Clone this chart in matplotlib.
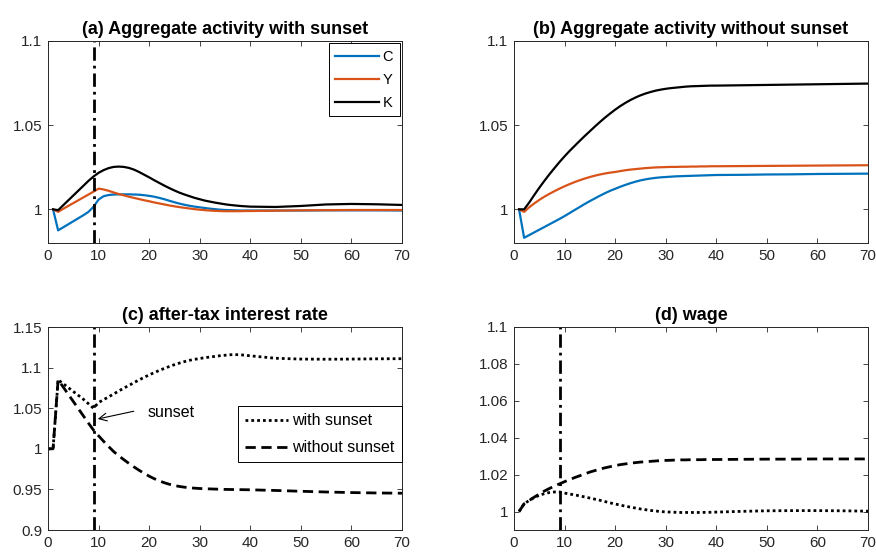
import matplotlib
matplotlib.use("Agg")
import matplotlib.pyplot as plt
from matplotlib.ticker import FuncFormatter

plt.rcParams['font.family'] = ['Liberation Sans', 'DejaVu Sans']

# periods shared by panels (a), (b), (d); panel (c) also has period 0
periods = list(range(1, 41)) + [45, 50, 55, 60, 65, 70]
periods_r = [0] + periods
sunset_year = 9

# (a) aggregate activity with sunset
c_sun = [1.0000, 0.9875, 0.9893, 0.9911, 0.9929, 0.9947, 0.9965, 0.9985, 1.0015, 1.0058,
         1.0078, 1.0085, 1.0088, 1.0089, 1.0089, 1.0089, 1.0088, 1.0087, 1.0084, 1.0080,
         1.0075, 1.0068, 1.0060, 1.0051, 1.0042, 1.0034, 1.0027, 1.0021, 1.0016, 1.0012,
         1.0008, 1.0004, 1.0001, 0.9998, 0.9996, 0.9995, 0.9994, 0.9993, 0.9993, 0.9993,
         0.9993, 0.9993, 0.9994, 0.9994, 0.9994, 0.9993]
y_sun = [1.0000, 0.9985, 1.0003, 1.0020, 1.0037, 1.0054, 1.0071, 1.0088, 1.0105, 1.0123,
         1.0118, 1.0110, 1.0100, 1.0091, 1.0083, 1.0075, 1.0068, 1.0061, 1.0054, 1.0048,
         1.0041, 1.0035, 1.0029, 1.0023, 1.0018, 1.0013, 1.0009, 1.0005, 1.0001, 0.9998,
         0.9995, 0.9993, 0.9991, 0.9990, 0.9989, 0.9989, 0.9989, 0.9989, 0.9990, 0.9990,
         0.9992, 0.9994, 0.9995, 0.9996, 0.9996, 0.9996]
k_sun = [1.0000, 0.9995, 1.0024, 1.0053, 1.0082, 1.0111, 1.0140, 1.0169, 1.0195, 1.0217,
         1.0233, 1.0245, 1.0252, 1.0254, 1.0252, 1.0246, 1.0236, 1.0222, 1.0206, 1.0190,
         1.0173, 1.0157, 1.0141, 1.0126, 1.0112, 1.0099, 1.0088, 1.0078, 1.0068, 1.0060,
         1.0052, 1.0046, 1.0040, 1.0035, 1.0030, 1.0026, 1.0023, 1.0020, 1.0018, 1.0016,
         1.0014, 1.0020, 1.0029, 1.0032, 1.0030, 1.0026]

# (b) aggregate activity without sunset
c_perm = [1.0000, 0.9831, 0.9847, 0.9863, 0.9879, 0.9895, 0.9911, 0.9927, 0.9943, 0.9960,
          0.9978, 0.9996, 1.0014, 1.0032, 1.0049, 1.0065, 1.0081, 1.0096, 1.0110, 1.0122,
          1.0134, 1.0145, 1.0155, 1.0164, 1.0172, 1.0178, 1.0183, 1.0187, 1.0190, 1.0192,
          1.0194, 1.0196, 1.0197, 1.0198, 1.0199, 1.0200, 1.0201, 1.0202, 1.0203, 1.0204,
          1.0205, 1.0207, 1.0208, 1.0210, 1.0211, 1.0212]
y_perm = [1.0000, 0.9985, 1.0012, 1.0035, 1.0056, 1.0075, 1.0092, 1.0108, 1.0123, 1.0137,
          1.0150, 1.0162, 1.0173, 1.0183, 1.0192, 1.0200, 1.0207, 1.0213, 1.0218, 1.0222,
          1.0227, 1.0232, 1.0236, 1.0239, 1.0242, 1.0245, 1.0247, 1.0249, 1.0250, 1.0251,
          1.0252, 1.0252, 1.0253, 1.0253, 1.0254, 1.0254, 1.0255, 1.0255, 1.0256, 1.0256,
          1.0257, 1.0258, 1.0259, 1.0260, 1.0261, 1.0262]
k_perm = [1.0000, 1.0000, 1.0040, 1.0085, 1.0128, 1.0169, 1.0208, 1.0245, 1.0281, 1.0315,
          1.0347, 1.0377, 1.0407, 1.0436, 1.0464, 1.0492, 1.0519, 1.0545, 1.0569, 1.0592,
          1.0613, 1.0632, 1.0649, 1.0664, 1.0677, 1.0688, 1.0697, 1.0705, 1.0711, 1.0716,
          1.0720, 1.0723, 1.0726, 1.0729, 1.0731, 1.0732, 1.0733, 1.0734, 1.0735, 1.0735,
          1.0737, 1.0739, 1.0741, 1.0743, 1.0745, 1.0747]

# (c) after-tax interest rate
r_sun = [1.0000, 1.0000, 1.0850, 1.0802, 1.0754, 1.0706, 1.0658, 1.0610, 1.0555, 1.0500,
         1.0570, 1.0605, 1.0640, 1.0676, 1.0712, 1.0748, 1.0780, 1.0815, 1.0848, 1.0880,
         1.0910, 1.0938, 1.0965, 1.0990, 1.1014, 1.1036, 1.1056, 1.1074, 1.1090, 1.1102,
         1.1112, 1.1122, 1.1130, 1.1138, 1.1146, 1.1152, 1.1158, 1.1160, 1.1158, 1.1152,
         1.1145, 1.1115, 1.1105, 1.1103, 1.1105, 1.1108, 1.1110]
r_perm = [1.0000, 1.0000, 1.0850, 1.0761, 1.0672, 1.0583, 1.0494, 1.0405, 1.0316, 1.0230,
          1.0160, 1.0092, 1.0027, 0.9965, 0.9913, 0.9866, 0.9820, 0.9777, 0.9736, 0.9698,
          0.9663, 0.9632, 0.9605, 0.9582, 0.9563, 0.9548, 0.9536, 0.9527, 0.9520, 0.9515,
          0.9511, 0.9508, 0.9506, 0.9504, 0.9502, 0.9500, 0.9499, 0.9498, 0.9497, 0.9496,
          0.9495, 0.9487, 0.9477, 0.9468, 0.9461, 0.9456, 0.9453]

# (d) wage
w_sun = [1.0000, 1.0042, 1.0060, 1.0076, 1.0088, 1.0097, 1.0103, 1.0106, 1.0106, 1.0100,
         1.0095, 1.0090, 1.0085, 1.0079, 1.0073, 1.0067, 1.0061, 1.0054, 1.0047, 1.0041,
         1.0035, 1.0029, 1.0024, 1.0019, 1.0014, 1.0010, 1.0006, 1.0003, 1.0000, 0.9998,
         0.9997, 0.9996, 0.9995, 0.9995, 0.9995, 0.9995, 0.9995, 0.9996, 0.9996, 0.9997,
         1.0001, 1.0004, 1.0005, 1.0005, 1.0004, 1.0002]
w_perm = [1.0000, 1.0042, 1.0060, 1.0078, 1.0095, 1.0111, 1.0125, 1.0138, 1.0150, 1.0162,
          1.0173, 1.0184, 1.0194, 1.0204, 1.0214, 1.0222, 1.0230, 1.0237, 1.0243, 1.0249,
          1.0254, 1.0258, 1.0262, 1.0265, 1.0268, 1.0270, 1.0272, 1.0274, 1.0276, 1.0277,
          1.0278, 1.0279, 1.0280, 1.0280, 1.0281, 1.0281, 1.0281, 1.0282, 1.0282, 1.0282,
          1.0283, 1.0284, 1.0284, 1.0285, 1.0285, 1.0285]

titles = ['(a) Aggregate activity with sunset', '(b) Aggregate activity without sunset',
          '(c) after-tax interest rate', '(d) wage']
x_ticks = [0, 10, 20, 30, 40, 50, 60, 70]
ylims = [(0.98, 1.1), (0.98, 1.1), (0.9, 1.15), (0.99, 1.1)]
yticks = [[1, 1.05, 1.1], [1, 1.05, 1.1],
          [0.9, 0.95, 1, 1.05, 1.1, 1.15],
          [1, 1.02, 1.04, 1.06, 1.08, 1.1]]

BLUE = '#0072BD'
ORANGE = '#D95319'
GREY = '#262626'
DOT = (0, (1, 1.1))
DASH = (0, (3.7, 2.0))
DASHDOT = (0, (4.8, 1.8, 1.0, 1.8))

fig = plt.figure(figsize=(8.76, 5.57), dpi=100)
W, H = 876, 557
boxes = [(48, 41, 354, 202), (514, 41, 354, 202), (48, 327, 354, 203), (514, 327, 354, 203)]
axes = [fig.add_axes([l / W, (H - t - h) / H, w / W, h / H]) for l, t, w, h in boxes]

for ax, title, ylim, yt in zip(axes, titles, ylims, yticks):
    ax.set_xlim(0, 70)
    ax.set_ylim(*ylim)
    ax.set_xticks(x_ticks)
    ax.set_yticks(yt)
    ax.yaxis.set_major_formatter(FuncFormatter(lambda v, _: f'{v:g}'))
    ax.tick_params(direction='in', top=True, right=True, length=3.5, width=0.6,
                   labelsize=11, colors=GREY, labelcolor=GREY, pad=4)
    for s in ax.spines.values():
        s.set_color(GREY)
        s.set_linewidth(0.7)
    ax.set_title(title, fontsize=13, fontweight='bold', pad=5)

ax_a, ax_b, ax_c, ax_d = axes

# (a)
ax_a.plot(periods, c_sun, color=BLUE, lw=1.6, label='C')
ax_a.plot(periods, y_sun, color=ORANGE, lw=1.6, label='Y')
ax_a.plot(periods, k_sun, color='black', lw=1.6, label='K')
ax_a.axvline(sunset_year, color='black', lw=2, linestyle=DASHDOT)
leg = ax_a.legend(loc='upper right', fontsize=10.5, handlelength=3.0, handletextpad=0.25,
                  labelspacing=0.62, borderpad=0.45, borderaxespad=0.15, fancybox=False,
                  framealpha=1)
leg.get_frame().set_edgecolor('black')
leg.get_frame().set_linewidth(0.7)

# (b)
ax_b.plot(periods, c_perm, color=BLUE, lw=1.6)
ax_b.plot(periods, y_perm, color=ORANGE, lw=1.6)
ax_b.plot(periods, k_perm, color='black', lw=1.6)

# (c)
ax_c.plot(periods_r, r_sun, color='black', lw=2, linestyle=DOT, label='with sunset')
ax_c.plot(periods_r, r_perm, color='black', lw=2, linestyle=DASH, label='without sunset')
ax_c.axvline(sunset_year, color='black', lw=2, linestyle=DASHDOT)
ax_c.annotate('', xy=(9.3, 1.036), xytext=(17.5, 1.047),
              arrowprops=dict(arrowstyle='->', color='black', lw=0.8, mutation_scale=14))
ax_c.text(19.6, 1.045, 'sunset', fontsize=11.5, va='center', ha='left')
leg = ax_c.legend(loc='upper right', bbox_to_anchor=(1.0, 0.611), fontsize=11.5,
                  handlelength=2.7, handletextpad=0.25, labelspacing=0.75, borderpad=0.45,
                  borderaxespad=0.0, fancybox=False, framealpha=1)
leg.get_frame().set_edgecolor('black')
leg.get_frame().set_linewidth(0.7)

# (d)
ax_d.plot(periods, w_sun, color='black', lw=2, linestyle=DOT)
ax_d.plot(periods, w_perm, color='black', lw=2, linestyle=DASH)
ax_d.axvline(sunset_year, color='black', lw=2, linestyle=DASHDOT)

fig.savefig('out.png', dpi=100)
